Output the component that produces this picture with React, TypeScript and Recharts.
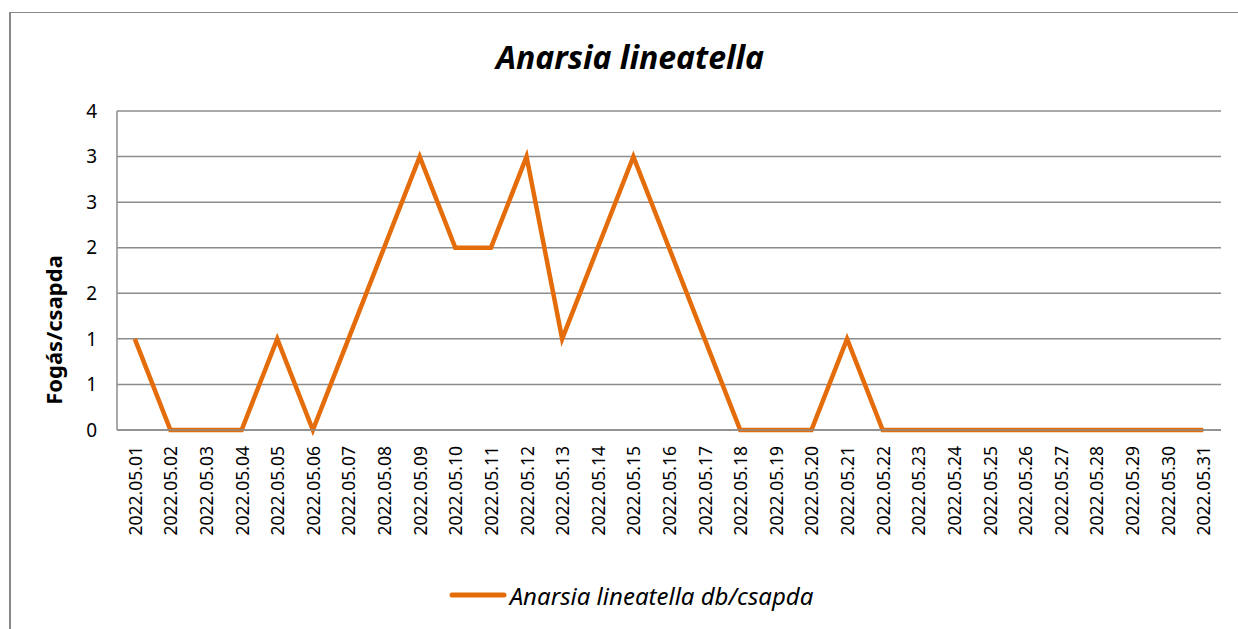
import React from "react";
import {
  LineChart,
  Line,
  XAxis,
  YAxis,
  CartesianGrid,
  Legend,
} from "recharts";

// trap catches per day, May 2022
const days = [
  "2022.05.01", "2022.05.02", "2022.05.03", "2022.05.04", "2022.05.05",
  "2022.05.06", "2022.05.07", "2022.05.08", "2022.05.09", "2022.05.10",
  "2022.05.11", "2022.05.12", "2022.05.13", "2022.05.14", "2022.05.15",
  "2022.05.16", "2022.05.17", "2022.05.18", "2022.05.19", "2022.05.20",
  "2022.05.21", "2022.05.22", "2022.05.23", "2022.05.24", "2022.05.25",
  "2022.05.26", "2022.05.27", "2022.05.28", "2022.05.29", "2022.05.30",
  "2022.05.31",
];
const catches = [
  1, 0, 0, 0, 1, 0, 1, 2, 3, 2, 2, 3, 1, 2, 3, 2, 1, 0, 0, 0, 1, 0, 0, 0, 0, 0,
  0, 0, 0, 0, 0,
];
const yTicks = [0, 0.5, 1, 1.5, 2, 2.5, 3, 3.5];

const seriesName = "Anarsia lineatella db/csapda";
const data = days.map((d, i) => ({ day: d, value: catches[i] }));

const FONT = "'Noto Sans', sans-serif";
const ORANGE = "#E46C0A";
const GRID = "#8c8c8c";

const DateTick = (props: any) => {
  const { x, y, payload } = props;
  return (
    <text
      x={x}
      y={y}
      transform={`rotate(-90, ${x}, ${y})`}
      textAnchor="end"
      dominantBaseline="central"
      fontFamily={FONT}
      fontSize={17.5}
      fill="#000"
    >
      {payload.value}
    </text>
  );
};

const LegendBox = () => (
  <div
    style={{
      height: 30,
      display: "flex",
      alignItems: "center",
      justifyContent: "center",
      fontFamily: FONT,
      fontStyle: "italic",
      fontSize: 24,
      paddingLeft: 12,
    }}
  >
    <svg width={58} height={10} style={{ marginRight: 3 }}>
      <line x1={3} y1={5} x2={55} y2={5} stroke={ORANGE} strokeWidth={5} strokeLinecap="round" />
    </svg>
    <span>{seriesName}</span>
  </div>
);

const App = () => {
  return (
    <div
      style={{
        position: "absolute",
        left: 9,
        top: 12,
        width: 1250,
        height: 640,
        borderTop: "1px solid #888",
        borderLeft: "2px solid #888",
        background: "#fff",
      }}
    >
      <div
        style={{
          position: "absolute",
          top: 22,
          left: 0,
          width: 1228,
          paddingLeft: 10,
          textAlign: "center",
          fontFamily: FONT,
          fontWeight: "bold",
          fontStyle: "italic",
          fontSize: 32,
          boxSizing: "border-box",
        }}
      >
        Anarsia lineatella
      </div>
      <LineChart
        width={1228}
        height={616}
        data={data}
        margin={{ top: 98, right: 18, left: 0, bottom: 69 }}
      >
        <CartesianGrid vertical={false} stroke={GRID} strokeWidth={1.5} />
        <XAxis
          dataKey="day"
          interval={0}
          height={100}
          padding={{ left: 17.8, right: 17.8 }}
          axisLine={{ stroke: GRID, strokeWidth: 1.5 }}
          tickLine={false}
          tick={<DateTick />}
          tickMargin={10}
        />
        <YAxis
          width={106}
          domain={[0, 3.5]}
          ticks={yTicks}
          interval={0}
          tickFormatter={(v: number) => String(Math.round(v))}
          axisLine={{ stroke: GRID, strokeWidth: 1.5 }}
          tickLine={false}
          tickMargin={14}
          tick={{ fontFamily: FONT, fontSize: 19, fill: "#000" }}
          label={{
            content: () => (
              <text
                x={42}
                y={317}
                transform="rotate(-90, 42, 317)"
                textAnchor="middle"
                dominantBaseline="central"
                fontFamily={FONT}
                fontWeight="bold"
                fontSize={22}
                fill="#000"
              >
                Fogás/csapda
              </text>
            ),
          }}
        />
        <Legend
          verticalAlign="bottom"
          content={<LegendBox />}
          wrapperStyle={{ position: "absolute", top: 567, left: 0, width: 1228 }}
        />
        <Line
          type="linear"
          dataKey="value"
          name={seriesName}
          stroke={ORANGE}
          strokeWidth={4.5}
          dot={false}
          activeDot={false}
          isAnimationActive={false}
        />
      </LineChart>
    </div>
  );
};

export default App;
